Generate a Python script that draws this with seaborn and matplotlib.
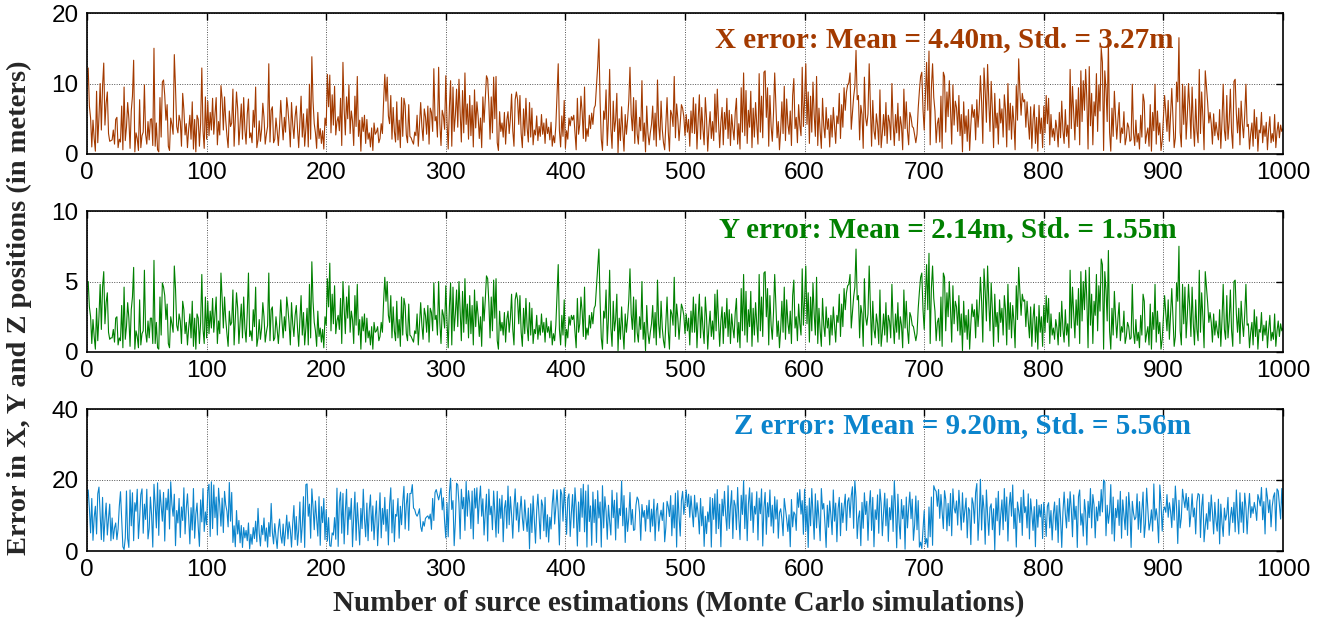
import numpy as np
import pandas as pd
import matplotlib
matplotlib.use("Agg")
import matplotlib.pyplot as plt
import seaborn as sns

# ---------------- data (estimated) ----------------
x_error = [
12.2,6.8,5.1,1.0,4.8,2.2,0.4,8.9,1.6,5.2,10.0,3.4,9.6,12.9,4.1,7.2,8.8,2.9,1.8,1.9,
2.0,3.4,1.4,4.9,5.2,0.9,2.1,1.7,6.8,0.6,9.5,1.9,3.8,7.3,5.0,0.8,6.1,8.2,13.3,0.3,
3.0,2.2,0.5,7.7,0.9,2.6,3.1,9.8,2.8,1.4,4.6,2.0,4.9,5.0,1.2,15.0,1.1,4.4,0.6,0.3,
8.0,2.4,10.2,10.5,8.3,4.8,7.0,1.1,0.5,5.1,4.2,2.8,14.1,9.4,3.9,3.0,5.5,4.6,1.1,8.6,
6.3,2.7,4.3,0.9,3.5,5.5,2.1,7.4,0.7,4.9,0.3,5.5,4.9,1.1,4.4,12.2,3.3,0.8,8.1,2.1,
7.5,2.6,5.9,3.4,7.9,2.8,5.6,8.0,1.3,4.6,2.7,9.7,7.8,3.4,8.1,4.8,2.6,0.9,6.1,3.9,
4.4,9.2,1.1,5.0,8.8,6.4,1.3,4.3,7.1,2.1,8.0,3.5,1.4,5.7,7.8,2.3,3.0,1.6,6.2,3.8,
9.5,0.9,2.0,4.7,1.8,3.5,7.2,5.2,1.4,2.8,3.9,12.8,1.7,6.2,6.7,1.6,2.1,5.1,3.3,1.2,
3.9,7.6,4.5,2.0,5.2,3.1,8.0,6.4,4.1,1.0,7.3,4.2,2.2,5.3,6.8,3.6,0.9,4.7,8.2,2.4,
5.7,1.1,3.6,6.4,1.0,9.9,2.1,13.8,7.5,4.3,3.0,0.8,5.9,2.2,3.6,1.5,3.3,0.7,5.1,4.0,
11.3,6.7,11.2,3.0,8.4,4.1,9.6,2.7,4.6,5.3,3.3,7.9,1.2,13.0,6.4,2.7,8.1,5.0,9.8,2.9,
6.1,4.7,1.2,8.2,3.9,11.0,2.5,4.8,0.4,5.2,3.2,5.5,1.5,4.9,2.1,3.0,1.0,3.7,0.5,4.4,
2.8,3.1,3.7,1.6,2.2,4.3,2.9,7.5,11.3,7.5,10.9,5.4,4.3,8.3,2.1,6.6,3.2,1.7,7.4,2.0,
4.8,0.9,8.0,2.5,7.9,6.9,2.7,1.6,7.0,2.5,2.3,1.8,1.4,3.1,2.6,5.5,1.1,4.1,7.3,3.9,
1.9,6.4,5.3,2.8,6.8,1.4,6.5,5.9,3.2,12.1,4.7,5.3,2.4,12.3,4.3,1.2,6.2,5.4,3.5,11.1,
4.6,0.7,6.6,10.4,1.1,9.5,3.2,5.5,9.2,3.8,10.6,5.9,1.7,9.0,3.0,11.5,4.2,7.1,2.1,8.3,
2.6,6.9,1.0,9.1,3.7,7.4,5.4,2.2,5.1,0.9,8.1,4.5,7.7,11.1,10.6,7.2,2.1,8.1,3.0,10.9,
5.0,11.0,1.6,0.5,6.0,3.2,4.4,2.4,5.9,1.4,4.8,6.0,2.9,5.0,8.5,3.3,1.1,7.7,8.8,7.7,
4.2,8.3,2.9,0.9,6.4,2.6,7.9,3.7,1.7,7.3,2.4,6.5,1.3,3.4,2.7,5.4,1.9,3.9,2.5,5.6,
2.8,4.4,1.5,5.0,2.9,3.8,2.0,4.5,1.1,2.6,1.6,4.0,8.6,12.8,3.3,1.0,5.4,2.5,7.6,0.8,
3.3,2.1,5.1,4.0,5.3,4.8,5.5,3.1,0.6,7.9,2.8,4.2,8.2,6.0,2.2,9.5,1.8,3.6,2.5,5.5,
3.6,5.8,4.2,6.5,6.9,9.7,12.5,16.3,7.5,2.1,0.5,6.1,4.9,9.1,1.2,5.0,12.0,3.6,0.8,7.5,
3.2,4.8,8.6,0.2,5.0,1.9,6.7,3.2,0.4,5.6,2.8,4.9,7.6,12.3,5.6,3.3,8.0,1.5,7.6,2.9,
1.4,5.2,3.3,10.4,1.8,4.4,0.3,6.8,3.0,1.3,3.0,4.2,6.8,2.0,5.8,1.1,10.5,4.1,2.0,7.5,
3.5,1.6,0.6,4.4,8.0,3.1,0.4,6.2,5.6,3.9,11.0,2.3,7.1,5.0,1.9,4.3,7.0,6.5,5.3,2.6,
5.6,3.1,4.9,1.1,6.1,3.0,8.0,2.9,7.1,0.7,4.9,8.4,2.1,6.6,3.6,1.3,8.0,5.1,0.4,3.7,
6.0,2.2,4.6,1.9,8.5,3.1,9.2,4.6,0.9,4.5,6.6,1.3,5.9,3.5,7.9,2.2,6.2,1.2,5.6,3.6,
2.0,5.9,7.9,1.4,4.3,0.7,9.4,3.1,11.5,2.6,9.0,1.5,6.2,3.8,8.9,0.9,6.5,2.4,7.3,4.2,
1.4,11.4,3.1,8.2,2.3,11.6,11.8,5.2,9.4,1.1,8.3,3.9,1.8,5.8,11.5,6.9,2.3,4.6,0.6,3.3,
7.4,2.9,9.6,1.9,7.8,4.3,2.8,6.1,1.2,8.3,10.7,3.6,5.2,1.6,7.0,4.1,2.6,12.3,3.9,7.7,
12.8,4.2,8.8,1.5,8.2,3.1,10.2,5.6,2.5,11.0,1.2,6.5,3.2,0.8,7.9,4.0,2.3,6.6,3.5,5.0,
1.0,5.5,2.4,6.6,4.1,1.5,5.4,4.3,8.6,2.2,7.0,3.8,9.4,6.2,8.8,9.8,10.1,11.5,3.5,5.9,
8.1,9.6,14.7,7.7,8.3,2.0,6.9,5.6,0.8,10.9,5.2,4.0,5.7,12.8,6.8,1.1,7.6,3.3,2.1,5.7,
4.1,1.3,9.1,0.9,3.0,5.6,2.6,7.3,1.5,5.5,4.6,2.0,10.0,4.4,1.2,5.6,3.0,7.2,1.9,5.3,
4.0,0.6,9.2,3.6,7.4,3.3,1.3,5.9,5.2,3.9,3.7,2.7,1.6,2.8,6.5,9.0,11.0,11.6,6.3,3.4,
8.2,13.0,6.2,14.6,1.3,9.3,12.8,8.0,6.1,1.6,4.3,5.1,1.7,8.2,0.8,11.6,11.0,3.1,8.8,5.3,
10.4,6.3,1.4,9.8,4.1,7.5,6.6,3.2,8.3,2.6,5.6,0.3,7.4,2.9,5.4,1.8,6.3,0.5,4.1,7.0,
5.2,6.3,2.0,7.7,3.8,6.4,11.1,7.4,1.5,12.2,8.9,4.5,12.7,7.5,3.2,10.3,6.3,0.9,8.6,3.7,
5.8,1.4,7.8,4.4,6.4,2.4,8.4,6.3,1.0,10.0,3.4,7.2,2.1,6.8,4.5,0.6,9.7,4.8,13.5,9.0,
5.5,8.6,7.4,7.7,3.8,7.4,4.6,2.1,6.7,0.8,4.9,7.0,1.5,5.2,0.4,6.9,2.9,5.1,0.9,6.8,
3.0,8.3,4.3,7.9,1.3,5.6,2.4,3.6,1.9,4.8,3.5,1.0,5.9,2.3,7.5,3.3,1.5,6.3,2.5,4.1,
0.9,12.0,3.6,9.6,5.7,2.0,7.7,3.9,9.4,1.3,11.8,4.6,10.4,6.2,12.0,7.8,0.7,12.4,4.0,8.6,
1.3,7.4,5.4,11.4,3.2,9.8,6.1,15.0,13.0,0.5,11.8,9.2,4.6,16.0,3.1,0.4,6.5,2.5,8.9,5.3,
2.1,4.9,7.3,1.6,3.7,2.9,6.0,1.3,2.3,4.4,3.8,1.8,2.0,9.9,3.0,1.2,4.8,1.7,2.9,0.7,
5.5,2.4,8.5,7.4,1.5,2.8,3.7,1.1,7.0,0.4,5.9,3.3,9.9,1.4,6.1,2.7,4.4,0.5,1.9,5.0,
8.3,5.9,3.2,7.6,1.8,5.7,9.3,5.1,0.9,2.3,10.2,7.4,16.5,3.1,1.0,9.9,4.2,9.6,2.1,5.5,
10.0,6.6,2.2,9.5,4.2,1.1,7.8,3.3,1.6,12.0,2.9,8.8,5.3,0.6,11.8,9.5,7.3,4.4,5.9,4.3,
1.4,5.7,2.6,4.5,3.1,2.0,6.3,0.8,4.7,9.9,3.4,1.9,8.3,2.1,4.6,9.2,3.1,0.8,10.3,10.6,
5.7,3.0,6.5,1.3,7.5,4.3,2.3,5.6,9.9,3.9,4.2,0.7,2.9,4.4,1.1,6.3,2.2,5.2,0.4,3.4,
3.0,5.9,1.6,4.0,2.5,4.5,0.6,3.4,5.3,1.6,2.9,1.8,5.6,0.9,3.2,4.5,2.3,4.1,3.2,3.6,
]

y_error = [
5.0,3.2,2.5,0.6,2.3,1.1,0.2,3.1,0.8,2.5,4.8,1.6,4.6,5.7,2.0,3.5,4.2,1.4,0.9,1.0,
1.0,1.6,0.7,2.4,2.5,0.5,1.0,0.8,3.3,0.3,4.6,0.9,1.8,3.5,2.4,0.4,3.0,3.9,6.0,0.2,
1.5,1.1,0.3,3.7,0.5,1.3,1.5,5.8,1.4,0.7,2.2,1.0,2.4,2.4,0.6,6.5,0.6,2.1,0.3,0.2,
3.9,1.2,4.9,4.6,4.0,2.3,3.4,0.6,0.3,2.5,2.0,1.4,6.1,4.5,1.9,1.5,2.7,2.2,0.6,3.6,
3.0,1.3,2.1,0.5,1.7,2.7,1.0,3.6,0.4,2.4,0.2,2.7,2.4,0.6,2.1,5.5,1.6,0.6,3.9,1.0,
3.6,1.3,2.9,1.7,3.8,1.4,2.7,3.9,0.6,2.2,1.3,5.6,3.8,1.7,3.9,2.3,1.3,0.4,2.9,1.9,
2.1,4.4,0.5,2.4,4.2,3.1,0.6,2.1,3.4,1.0,3.9,1.7,0.7,2.8,5.6,1.1,1.5,0.8,3.0,1.8,
4.6,0.4,1.0,2.3,0.9,1.7,3.5,2.5,0.7,1.4,1.9,5.6,0.8,3.0,3.2,0.8,1.0,2.5,1.6,0.6,
1.9,3.7,2.2,1.0,2.5,1.5,3.9,3.1,2.0,0.5,3.5,2.0,1.1,2.6,3.3,1.7,0.4,2.3,4.0,1.2,
2.8,0.5,1.7,3.1,0.5,4.8,1.0,6.4,3.6,2.1,1.5,0.4,2.9,1.1,1.7,0.7,1.6,0.3,2.5,1.9,
5.2,3.2,6.3,1.5,4.1,2.0,4.7,1.3,2.2,2.6,1.6,3.8,0.6,5.0,3.1,1.3,3.9,2.4,4.7,1.4,
2.9,2.3,0.6,4.0,1.9,4.8,1.2,2.3,0.2,2.5,1.5,2.7,0.7,2.4,1.0,1.5,0.5,1.8,0.2,2.1,
1.4,1.5,1.8,0.8,1.1,2.1,1.4,3.6,5.3,3.6,5.0,2.6,2.1,4.0,1.0,3.2,1.5,0.8,3.6,1.0,
2.3,0.4,3.9,1.2,3.8,3.3,1.3,0.8,3.4,1.2,1.1,0.9,0.7,1.5,1.3,2.7,0.5,2.0,3.5,1.9,
0.9,3.1,2.6,1.4,3.3,0.7,3.1,2.8,1.5,4.9,2.3,2.6,1.2,5.0,2.1,0.6,3.0,2.6,1.7,4.7,
2.2,0.3,3.2,4.9,0.5,4.6,1.5,2.7,4.4,1.8,5.0,2.9,0.8,4.3,1.4,5.2,2.0,3.4,1.0,4.0,
1.3,3.3,0.5,4.4,1.8,3.6,2.6,1.1,2.5,0.4,3.9,2.2,3.7,5.4,5.2,3.5,1.0,3.9,1.5,5.1,
2.4,5.2,0.8,0.2,2.9,1.5,2.1,1.2,2.8,0.7,2.3,2.9,1.4,2.4,4.1,1.6,0.5,3.7,4.2,3.7,
2.0,4.0,1.4,0.4,3.1,1.3,3.8,1.8,0.8,3.5,1.2,3.1,0.6,1.6,1.3,2.6,0.9,1.9,1.2,2.7,
1.4,2.1,0.7,2.4,1.4,1.8,1.0,2.2,0.5,1.3,0.8,1.9,4.1,6.2,1.6,0.5,2.6,1.2,3.7,0.4,
1.6,1.0,2.5,1.9,2.6,2.3,2.6,1.5,0.3,3.8,1.4,2.0,3.9,2.9,1.1,4.6,0.9,1.7,1.2,2.6,
1.7,2.8,2.0,3.1,3.3,4.7,6.0,7.3,3.6,1.0,0.2,2.9,2.4,4.4,0.6,2.4,5.8,1.7,0.4,3.6,
1.5,2.3,4.1,0.1,2.4,0.9,3.2,1.5,0.2,2.7,1.4,2.4,3.7,5.9,2.7,1.6,3.9,0.7,3.7,1.4,
0.7,2.5,1.6,5.0,0.9,2.1,0.1,3.3,1.4,0.6,1.4,2.0,3.3,1.0,2.8,0.5,5.1,2.0,1.0,3.6,
1.7,0.8,0.3,2.1,3.9,1.5,0.2,3.0,2.7,1.9,5.3,1.1,3.4,2.4,0.9,2.1,3.4,3.1,2.6,1.3,
2.7,1.5,2.4,0.5,2.9,1.4,3.9,1.4,3.4,0.3,2.4,4.1,1.0,3.2,1.7,0.6,3.9,2.5,0.2,1.8,
2.9,1.1,2.2,0.9,4.1,1.5,4.4,2.2,0.4,2.2,3.2,0.6,2.8,1.7,3.8,1.1,3.0,0.6,2.7,1.7,
1.0,2.8,3.8,0.7,2.1,0.3,4.5,1.5,5.5,1.2,4.3,0.7,3.0,1.8,4.3,0.4,3.1,1.2,3.5,2.0,
0.7,5.5,1.5,3.9,1.1,5.6,5.7,2.5,4.5,0.5,4.0,1.9,0.9,2.8,5.5,3.3,1.1,2.2,0.3,1.6,
3.6,1.4,4.6,0.9,3.7,2.1,1.3,2.9,0.6,4.0,5.1,1.7,2.5,0.8,3.4,2.0,1.2,5.9,1.9,3.7,
6.1,2.0,4.2,0.7,3.9,1.5,4.9,2.7,1.2,5.3,0.6,3.1,1.5,0.4,3.8,1.9,1.1,3.2,1.7,2.4,
0.5,2.6,1.2,3.2,2.0,0.7,2.6,2.1,4.1,1.1,3.4,1.8,4.5,3.0,4.2,4.7,4.8,5.5,1.7,2.8,
3.9,4.6,7.3,3.7,4.0,1.0,3.3,2.7,0.4,5.2,2.5,1.9,2.7,6.1,3.3,0.5,3.6,1.6,1.0,2.7,
2.0,0.6,4.4,0.4,1.4,2.7,1.2,3.5,0.7,2.6,2.2,1.0,4.8,2.1,0.6,2.7,1.4,3.5,0.9,2.5,
1.9,0.3,4.4,1.7,3.6,1.6,0.6,2.8,2.5,1.9,1.8,1.3,0.8,1.3,3.1,4.3,5.3,5.6,3.0,1.6,
3.9,6.2,3.0,7.0,0.6,4.5,6.1,3.8,2.9,0.8,2.1,2.4,0.8,3.9,0.4,5.6,5.3,1.5,4.2,2.5,
5.0,3.0,0.7,4.7,2.0,3.6,3.2,1.5,4.0,1.2,2.7,0.1,3.6,1.4,2.6,0.9,3.0,0.2,2.0,3.4,
2.5,3.0,1.0,3.7,1.8,3.1,5.3,3.6,0.7,5.9,4.3,2.2,6.1,3.6,1.5,4.9,3.0,0.4,4.1,1.8,
2.8,0.7,3.7,2.1,3.1,1.2,4.0,3.0,0.5,4.8,1.6,3.5,1.0,3.3,2.2,0.3,4.7,2.3,6.0,4.3,
2.6,4.1,3.6,3.7,1.8,3.6,2.2,1.0,3.2,0.4,2.4,3.4,0.7,2.5,0.2,3.3,1.4,2.5,0.4,3.3,
1.4,4.0,2.1,3.8,0.6,2.7,1.2,1.7,0.9,2.3,1.7,0.5,2.8,1.1,3.6,1.6,0.7,3.0,1.2,2.0,
0.4,5.8,1.7,4.6,2.7,1.0,3.7,1.9,4.5,0.6,5.7,2.2,5.0,3.0,5.8,3.7,0.3,6.0,1.9,4.1,
0.6,3.6,2.6,5.5,1.5,4.7,2.9,6.6,6.2,0.2,5.7,4.4,2.2,7.2,1.5,0.2,3.1,1.2,4.3,2.5,
1.0,2.4,3.5,0.8,1.8,1.4,2.9,0.6,1.1,2.1,1.8,0.9,1.0,4.8,1.4,0.6,2.3,0.8,1.4,0.3,
2.6,1.2,4.1,3.6,0.7,1.3,1.8,0.5,3.4,0.2,2.8,1.6,4.8,0.7,2.9,1.3,2.1,0.2,0.9,2.4,
4.0,2.8,1.5,3.7,0.9,2.7,4.5,2.5,0.4,1.1,4.9,3.6,7.5,1.5,0.5,4.8,2.0,4.6,1.0,2.6,
4.8,3.2,1.1,4.6,2.0,0.5,3.7,1.6,0.8,5.8,1.4,4.2,2.5,0.3,5.7,4.6,3.5,2.1,2.8,2.1,
0.7,2.7,1.2,2.2,1.5,1.0,3.0,0.4,2.3,4.8,1.6,0.9,4.0,1.0,2.2,4.4,1.5,0.4,5.0,5.1,
2.7,1.4,3.1,0.6,3.6,2.1,1.1,2.7,4.8,1.9,2.0,0.3,1.4,2.1,0.5,3.0,1.1,2.5,0.2,1.6,
1.4,2.8,0.8,1.9,1.2,2.2,0.3,1.6,2.6,0.8,1.4,0.9,2.7,0.4,1.5,2.2,1.1,2.0,1.5,1.7,
]

z_error = [
17.2,12.0,5.1,14.8,3.0,9.5,12.6,4.8,16.1,18.0,10.2,3.2,15.1,2.7,8.8,13.5,4.5,9.2,13.2,2.9,
9.3,3.4,6.5,7.9,3.2,6.2,12.6,16.7,9.1,1.2,0.4,3.7,16.9,3.5,1.0,17.2,7.1,16.4,2.9,13.6,
11.2,17.4,3.5,9.0,15.9,17.5,5.0,13.2,8.9,17.4,3.4,6.3,15.2,10.1,1.1,18.8,13.1,6.5,19.2,4.4,
17.2,12.6,8.4,16.5,2.8,14.9,11.6,17.4,6.2,19.5,13.0,9.8,16.0,1.5,11.4,7.9,14.8,3.8,12.4,8.6,
17.8,4.8,12.0,16.1,9.5,2.0,12.2,5.9,17.6,3.6,10.4,13.5,6.7,1.3,14.4,8.2,17.6,5.5,11.0,7.4,
17.0,18.8,4.1,19.5,6.3,18.6,9.4,15.2,4.5,17.7,12.9,7.0,14.9,5.2,16.8,13.0,11.2,6.8,19.3,8.4,
16.5,2.4,7.1,1.2,11.4,4.8,8.6,2.3,7.2,1.0,6.6,3.7,5.8,2.9,7.9,0.6,4.7,1.9,6.6,3.5,
8.4,2.6,12.0,5.0,1.4,7.2,4.6,9.3,2.8,6.5,1.1,8.0,4.1,13.4,5.2,2.0,7.7,3.9,0.7,6.1,
9.0,4.3,2.2,7.6,1.5,5.6,10.1,3.4,8.2,6.0,1.1,7.8,12.8,3.2,9.7,1.6,5.9,13.8,2.4,7.2,
15.3,1.0,18.7,18.9,9.8,13.2,3.6,17.5,12.4,6.0,14.1,9.2,4.2,15.3,1.6,12.5,8.0,14.8,3.2,11.6,
2.8,9.4,1.5,1.3,5.1,4.5,9.4,3.3,17.7,1.3,13.8,16.6,5.0,16.2,2.0,11.2,17.4,4.6,12.3,8.9,
14.8,1.2,9.6,16.6,3.0,13.6,7.8,1.7,12.0,6.3,17.4,9.1,4.0,13.5,2.9,11.5,15.8,5.6,12.7,3.2,
9.4,14.1,1.5,8.8,16.4,3.7,12.0,7.5,15.1,5.6,11.7,1.7,13.2,17.8,5.1,14.4,2.6,10.3,9.8,14.8,
3.6,12.6,7.4,13.8,18.2,6.2,13.2,16.2,5.8,16.2,16.2,18.7,12.1,11.7,10.4,9.8,10.6,11.9,6.9,5.5,
8.3,7.0,9.2,9.6,9.9,9.0,10.4,6.1,14.8,8.6,16.5,17.3,15.8,14.4,15.9,17.7,11.6,15.0,8.3,3.7,
13.6,4.0,16.4,20.5,11.7,14.2,1.5,8.3,19.1,18.6,13.4,3.4,17.4,11.9,15.1,5.8,19.6,9.8,17.0,13.5,
6.3,16.9,3.4,17.6,12.1,17.8,7.7,14.2,18.3,9.8,14.7,4.5,10.7,16.0,2.8,17.4,10.2,12.6,6.0,16.9,
11.0,3.9,16.8,5.0,14.7,9.2,15.7,2.6,12.0,14.2,6.4,18.3,7.4,15.3,10.2,3.6,12.3,17.5,8.7,13.6,
5.4,11.1,15.4,9.3,5.8,14.4,9.1,5.5,12.1,0.6,13.3,5.2,15.5,8.6,2.2,11.4,16.0,9.8,3.4,14.4,
12.8,5.7,15.1,4.0,10.2,2.5,9.5,6.2,13.3,17.3,7.6,12.6,17.2,11.1,1.7,17.3,15.9,8.4,17.8,12.1,
4.7,14.8,16.1,4.1,10.7,15.9,6.5,17.8,12.4,1.4,13.8,5.5,17.6,9.5,18.8,5.4,16.9,1.1,18.6,8.3,
12.7,1.6,16.6,8.0,14.5,2.4,17.0,9.3,13.8,1.1,18.4,6.5,15.3,11.2,3.3,12.9,8.3,4.5,17.1,9.4,
14.3,3.1,16.4,6.4,12.0,10.0,19.7,7.1,15.6,2.4,12.1,5.5,9.5,16.5,7.4,11.7,5.8,6.0,12.9,15.2,
14.4,10.9,3.0,13.1,9.5,11.4,5.6,12.8,9.1,14.3,5.4,11.8,7.0,14.6,2.9,11.3,13.4,5.6,9.6,11.5,
8.6,13.6,2.6,6.7,14.0,12.5,9.7,15.6,4.3,12.9,6.5,16.3,1.1,17.0,9.8,4.2,14.2,16.8,10.3,13.5,
17.2,12.5,16.0,9.5,15.5,11.3,6.8,15.7,9.6,13.6,10.4,4.8,14.8,7.1,12.5,1.3,9.8,4.9,11.0,8.2,
15.1,1.1,14.8,8.9,16.1,4.9,17.3,6.3,13.2,1.2,14.6,9.9,16.8,10.2,5.8,18.4,6.3,12.5,17.0,3.5,
14.3,12.8,6.0,17.9,9.3,3.2,15.7,10.3,19.8,6.3,15.8,2.9,13.2,17.8,8.6,16.4,5.2,12.6,10.4,16.7,
3.1,14.9,10.5,17.5,1.4,12.3,16.5,4.7,13.6,9.6,17.2,7.0,12.9,5.1,15.3,9.0,14.4,3.6,10.8,11.9,
9.0,4.3,14.8,12.0,9.0,5.5,10.2,1.2,14.5,6.8,11.0,10.3,5.8,16.4,12.3,17.3,10.4,14.2,4.7,17.4,
5.6,12.7,1.0,14.9,7.1,17.6,10.4,3.3,16.1,6.5,14.2,9.1,2.9,17.6,11.8,13.4,7.8,1.0,12.9,6.7,
14.1,10.0,4.6,17.2,8.4,13.5,2.6,11.9,15.1,4.3,13.5,8.0,12.4,16.0,5.8,14.0,15.0,9.4,15.5,18.1,
6.4,19.8,15.0,3.5,9.3,11.3,1.5,13.7,6.4,16.4,10.3,14.0,3.0,12.4,17.0,5.8,15.1,1.2,11.6,8.9,
15.8,5.0,17.4,13.5,4.3,10.6,16.3,7.1,14.7,2.7,12.2,8.8,15.6,5.5,19.8,12.2,0.9,16.0,8.1,3.4,
14.5,9.1,12.8,0.5,15.2,6.5,12.2,16.6,9.1,14.6,3.0,7.4,15.5,6.0,14.2,1.1,2.5,0.7,6.2,11.4,
2.0,3.5,1.0,12.4,4.0,15.2,1.6,18.4,17.3,16.8,12.6,17.3,9.2,15.9,11.0,6.3,17.0,14.5,5.7,13.4,
7.1,16.2,4.3,17.5,12.2,10.7,14.1,7.3,17.1,11.5,5.9,16.4,8.1,11.4,14.9,3.7,12.2,11.4,1.8,15.0,
13.3,7.8,16.5,19.0,3.0,9.7,20.2,5.9,15.7,11.8,1.9,17.2,10.2,4.4,12.2,13.3,6.0,11.9,0.3,14.9,
8.5,16.8,4.5,10.2,14.4,6.0,17.6,8.4,15.2,2.8,12.4,16.5,9.8,18.6,6.3,12.0,1.1,13.8,11.2,8.0,
15.1,4.4,17.2,10.8,12.5,6.5,16.1,3.4,14.7,10.7,5.8,12.5,1.2,14.5,6.7,12.9,9.6,13.1,3.5,13.7,
10.0,4.1,12.6,13.6,6.5,11.4,3.1,10.3,13.8,5.9,12.8,2.4,14.8,9.3,1.0,11.0,16.6,10.5,6.5,14.7,
8.3,16.7,11.8,4.0,15.8,8.9,12.6,1.0,15.3,17.2,7.3,10.5,4.2,14.5,10.8,1.7,14.0,9.4,17.6,6.5,
15.9,13.0,3.7,12.4,8.5,14.0,9.9,17.3,11.0,20.0,19.4,4.3,12.9,7.8,10.9,18.7,4.8,15.2,2.8,12.0,
9.4,14.4,7.2,16.8,3.6,14.4,10.1,6.0,15.3,4.4,16.5,11.6,1.0,14.0,10.7,8.8,9.5,16.1,6.1,13.9,
5.2,11.4,16.6,3.8,7.7,17.7,11.7,5.9,8.0,11.6,5.6,18.9,8.7,11.9,8.8,2.3,18.6,13.6,5.6,11.4,
12.4,10.9,15.9,9.5,13.6,11.2,6.6,14.8,8.7,18.3,12.4,2.1,14.3,6.5,9.4,17.4,14.5,12.2,16.2,11.5,
15.1,6.8,10.5,16.1,9.6,12.1,4.8,13.8,16.2,15.8,3.8,12.4,16.0,2.6,7.0,10.5,6.1,13.7,8.4,15.8,
10.8,4.8,13.7,8.5,5.6,14.6,2.0,13.2,7.8,4.1,12.1,8.7,10.4,15.1,4.4,9.5,12.3,8.0,13.7,5.4,
17.2,9.6,4.8,16.4,8.1,13.8,5.2,16.3,12.3,4.8,11.5,16.2,9.4,12.5,10.6,13.7,11.7,8.6,15.9,14.5,
12.7,17.9,8.8,13.9,4.8,17.7,15.1,10.8,14.4,6.8,12.6,15.3,16.4,5.7,17.5,16.9,12.8,9.0,17.6,9.4,
]

x_ticks = [0, 100, 200, 300, 400, 500, 600, 700, 800, 900, 1000]
y_ticks_x = [0, 10, 20]
y_ticks_y = [0, 5, 10]
y_ticks_z = [0, 20, 40]
labels = ["X error: Mean = 4.40m, Std. = 3.27m",
          "Y error: Mean = 2.14m, Std. = 1.55m",
          "Z error: Mean = 9.20m, Std. = 5.56m"]
colors = ["#A33A00", "#008000", "#0B84CC"]
ylabel = "Error in X, Y and Z positions (in meters)"
xlabel = "Number of surce estimations (Monte Carlo simulations)"

# ---------------- styling ----------------
sns.set_style("white")
plt.rcParams["font.family"] = ["Liberation Sans", "DejaVu Sans"]
plt.rcParams["axes.linewidth"] = 1.2

W, H = 1325, 620
fig = plt.figure(figsize=(W / 100, H / 100), dpi=100)

left = 87 / W
width = (1283 - 87) / W
panels = [  # (top_px, bottom_px)
    (13, 154),
    (211, 352),
    (409, 551),
]
series = [x_error, y_error, z_error]
yticks_all = [y_ticks_x, y_ticks_y, y_ticks_z]
text_pos = [(0.717, 0.81), (0.720, 0.865), (0.732, 0.885)]
serif = ["Liberation Serif", "DejaVu Serif"]

for i, (top, bot) in enumerate(panels):
    ax = fig.add_axes([left, 1 - bot / H, width, (bot - top) / H])
    vals = series[i]
    df = pd.DataFrame({"n": np.arange(1, len(vals) + 1), "err": vals})
    sns.lineplot(data=df, x="n", y="err", ax=ax, color=colors[i],
                 linewidth=0.8, estimator=None)
    ax.set_xlim(x_ticks[0], x_ticks[-1])
    ax.set_ylim(yticks_all[i][0], yticks_all[i][-1])
    ax.set_xticks(x_ticks)
    ax.set_yticks(yticks_all[i])
    ax.set_xlabel("")
    ax.set_ylabel("")
    ax.grid(True, linestyle=(0, (1, 1.5)), color="#555555", linewidth=0.7)
    ax.set_axisbelow(True)
    ax.tick_params(direction="in", length=5, width=1.0, top=True, right=True,
                   labelsize=17.5, colors="black", pad=6)
    for s in ax.spines.values():
        s.set_color("black")
        s.set_linewidth(1.2)
    ax.text(text_pos[i][0], text_pos[i][1], labels[i], transform=ax.transAxes,
            ha="center", va="center", color=colors[i], fontsize=21,
            fontweight="bold", family=serif)

fig.text(0.015, 0.503, ylabel, rotation=90, ha="center", va="center",
         fontsize=20.5, fontweight="bold", family=serif)
fig.text(0.512, 0.027, xlabel, ha="center", va="center",
         fontsize=21, fontweight="bold", family=serif)

fig.savefig("out.png", dpi=100)
